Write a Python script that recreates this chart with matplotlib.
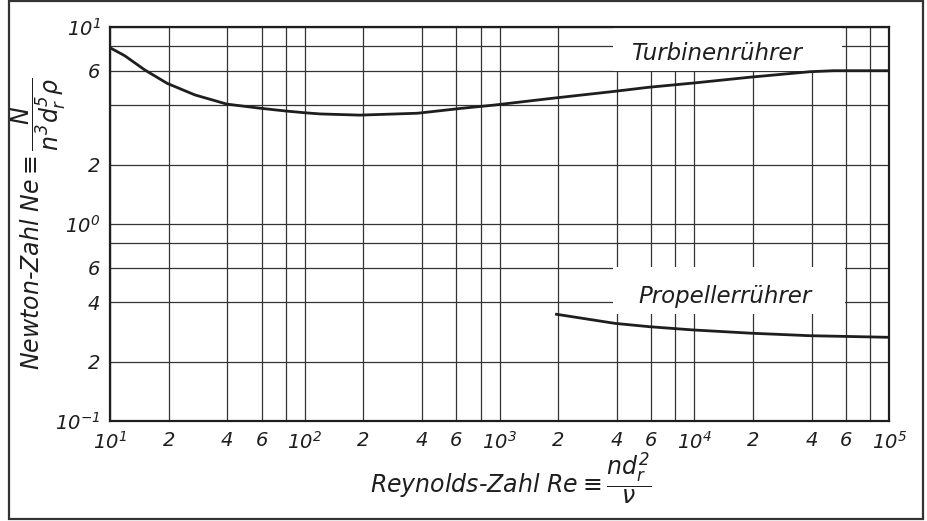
import matplotlib
matplotlib.use("Agg")
import matplotlib.pyplot as plt
from matplotlib.patches import Rectangle
from matplotlib.ticker import FixedLocator, FixedFormatter, NullFormatter

# ---- data ----
turbine_re = [10, 11.9, 15.1, 19.7, 27.3, 39.8, 59, 79, 100, 120, 192, 380, 630,
              950, 1880, 3800, 5800, 10000, 19300, 39300, 52000, 70000, 100000]
turbine_ne = [7.85, 7.15, 6.05, 5.17, 4.52, 4.06, 3.87, 3.75, 3.67, 3.62, 3.57, 3.65, 3.86,
              4.02, 4.35, 4.70, 4.94, 5.2, 5.56, 5.93, 6.0, 6.0, 6.0]

propeller_re = [1930, 3920, 5900, 7760, 9800, 19600, 39300, 100000]
propeller_ne = [0.349, 0.313, 0.301, 0.295, 0.29, 0.279, 0.271, 0.266]

x_ticks = [10, 20, 40, 60, 100, 200, 400, 600, 1000, 2000, 4000, 6000,
           10000, 20000, 40000, 60000, 100000]
x_labels = [r"$10^1$", "2", "4", "6", r"$10^2$", "2", "4", "6", r"$10^3$",
            "2", "4", "6", r"$10^4$", "2", "4", "6", r"$10^5$"]
x_grid_extra = [80, 800, 8000, 80000]

y_ticks = [0.1, 0.2, 0.4, 0.6, 1, 2, 6, 10]
y_labels = [r"$10^{-1}$", "2", "4", "6", r"$10^0$", "2", "6", r"$10^1$"]
y_grid_extra = [0.8, 4, 8]

series_labels = ["Turbinenrührer", "Propellerrührer"]
x_title = r"Reynolds-Zahl $Re \equiv \dfrac{n d_r^2}{\nu}$"
y_title = r"Newton-Zahl $Ne \equiv \dfrac{N}{n^3 d_r^5 \rho}$"

# ---- style ----
plt.rcParams["font.family"] = ["DejaVu Sans"]
plt.rcParams["font.style"] = "italic"
plt.rcParams["mathtext.fontset"] = "custom"
plt.rcParams["mathtext.rm"] = "DejaVu Sans:italic"
plt.rcParams["mathtext.it"] = "DejaVu Sans:italic"
plt.rcParams["mathtext.default"] = "it"

ink = "#1e1e1e"
fig = plt.figure(figsize=(9.27, 5.21), dpi=100)
fig.patch.set_facecolor("white")
ax = fig.add_axes([110 / 927, 1 - 421 / 521, 779 / 927, 394 / 521])

ax.set_xscale("log")
ax.set_yscale("log")
ax.set_xlim(10, 1e5)
ax.set_ylim(0.1, 10)

ax.xaxis.set_major_locator(FixedLocator(x_ticks))
ax.xaxis.set_major_formatter(FixedFormatter(x_labels))
ax.xaxis.set_minor_locator(FixedLocator(x_grid_extra))
ax.xaxis.set_minor_formatter(NullFormatter())
ax.yaxis.set_major_locator(FixedLocator(y_ticks))
ax.yaxis.set_major_formatter(FixedFormatter(y_labels))
ax.yaxis.set_minor_locator(FixedLocator(y_grid_extra))
ax.yaxis.set_minor_formatter(NullFormatter())

ax.grid(True, which="both", color="#333333", lw=0.9)
ax.tick_params(which="both", length=0, labelsize=14, colors=ink, pad=7)
for s in ax.spines.values():
    s.set_color(ink)
    s.set_linewidth(1.6)

# white label boxes (cover the grid)
ax.add_patch(Rectangle((0.646, 0.888), 0.294, 0.112, transform=ax.transAxes,
                       facecolor="white", edgecolor="none", zorder=2))
ax.add_patch(Rectangle((0.646, 0.272), 0.298, 0.12, transform=ax.transAxes,
                       facecolor="white", edgecolor="none", zorder=2))

ax.plot(turbine_re, turbine_ne, color=ink, lw=2.0, zorder=3, solid_capstyle="butt")
ax.plot(propeller_re, propeller_ne, color=ink, lw=2.0, zorder=3, solid_capstyle="butt")

ax.text(0.779, 0.934, series_labels[0], transform=ax.transAxes, ha="center",
        va="center", fontsize=16.5, color=ink, zorder=4)
ax.text(0.790, 0.315, series_labels[1], transform=ax.transAxes, ha="center",
        va="center", fontsize=16.5, color=ink, zorder=4)

ax.set_xlabel(x_title, fontsize=17, color=ink)
ax.set_ylabel(y_title, fontsize=17, color=ink)
ax.xaxis.set_label_coords(0.514, -0.075)
ax.yaxis.set_label_coords(-0.054, 0.5)

# outer frame
fig.add_artist(Rectangle((9 / 927, 2 / 521), 914 / 927, 518 / 521,
                         transform=fig.transFigure, facecolor="none",
                         edgecolor="#333333", lw=1.6))

fig.savefig("out.png", dpi=100)
